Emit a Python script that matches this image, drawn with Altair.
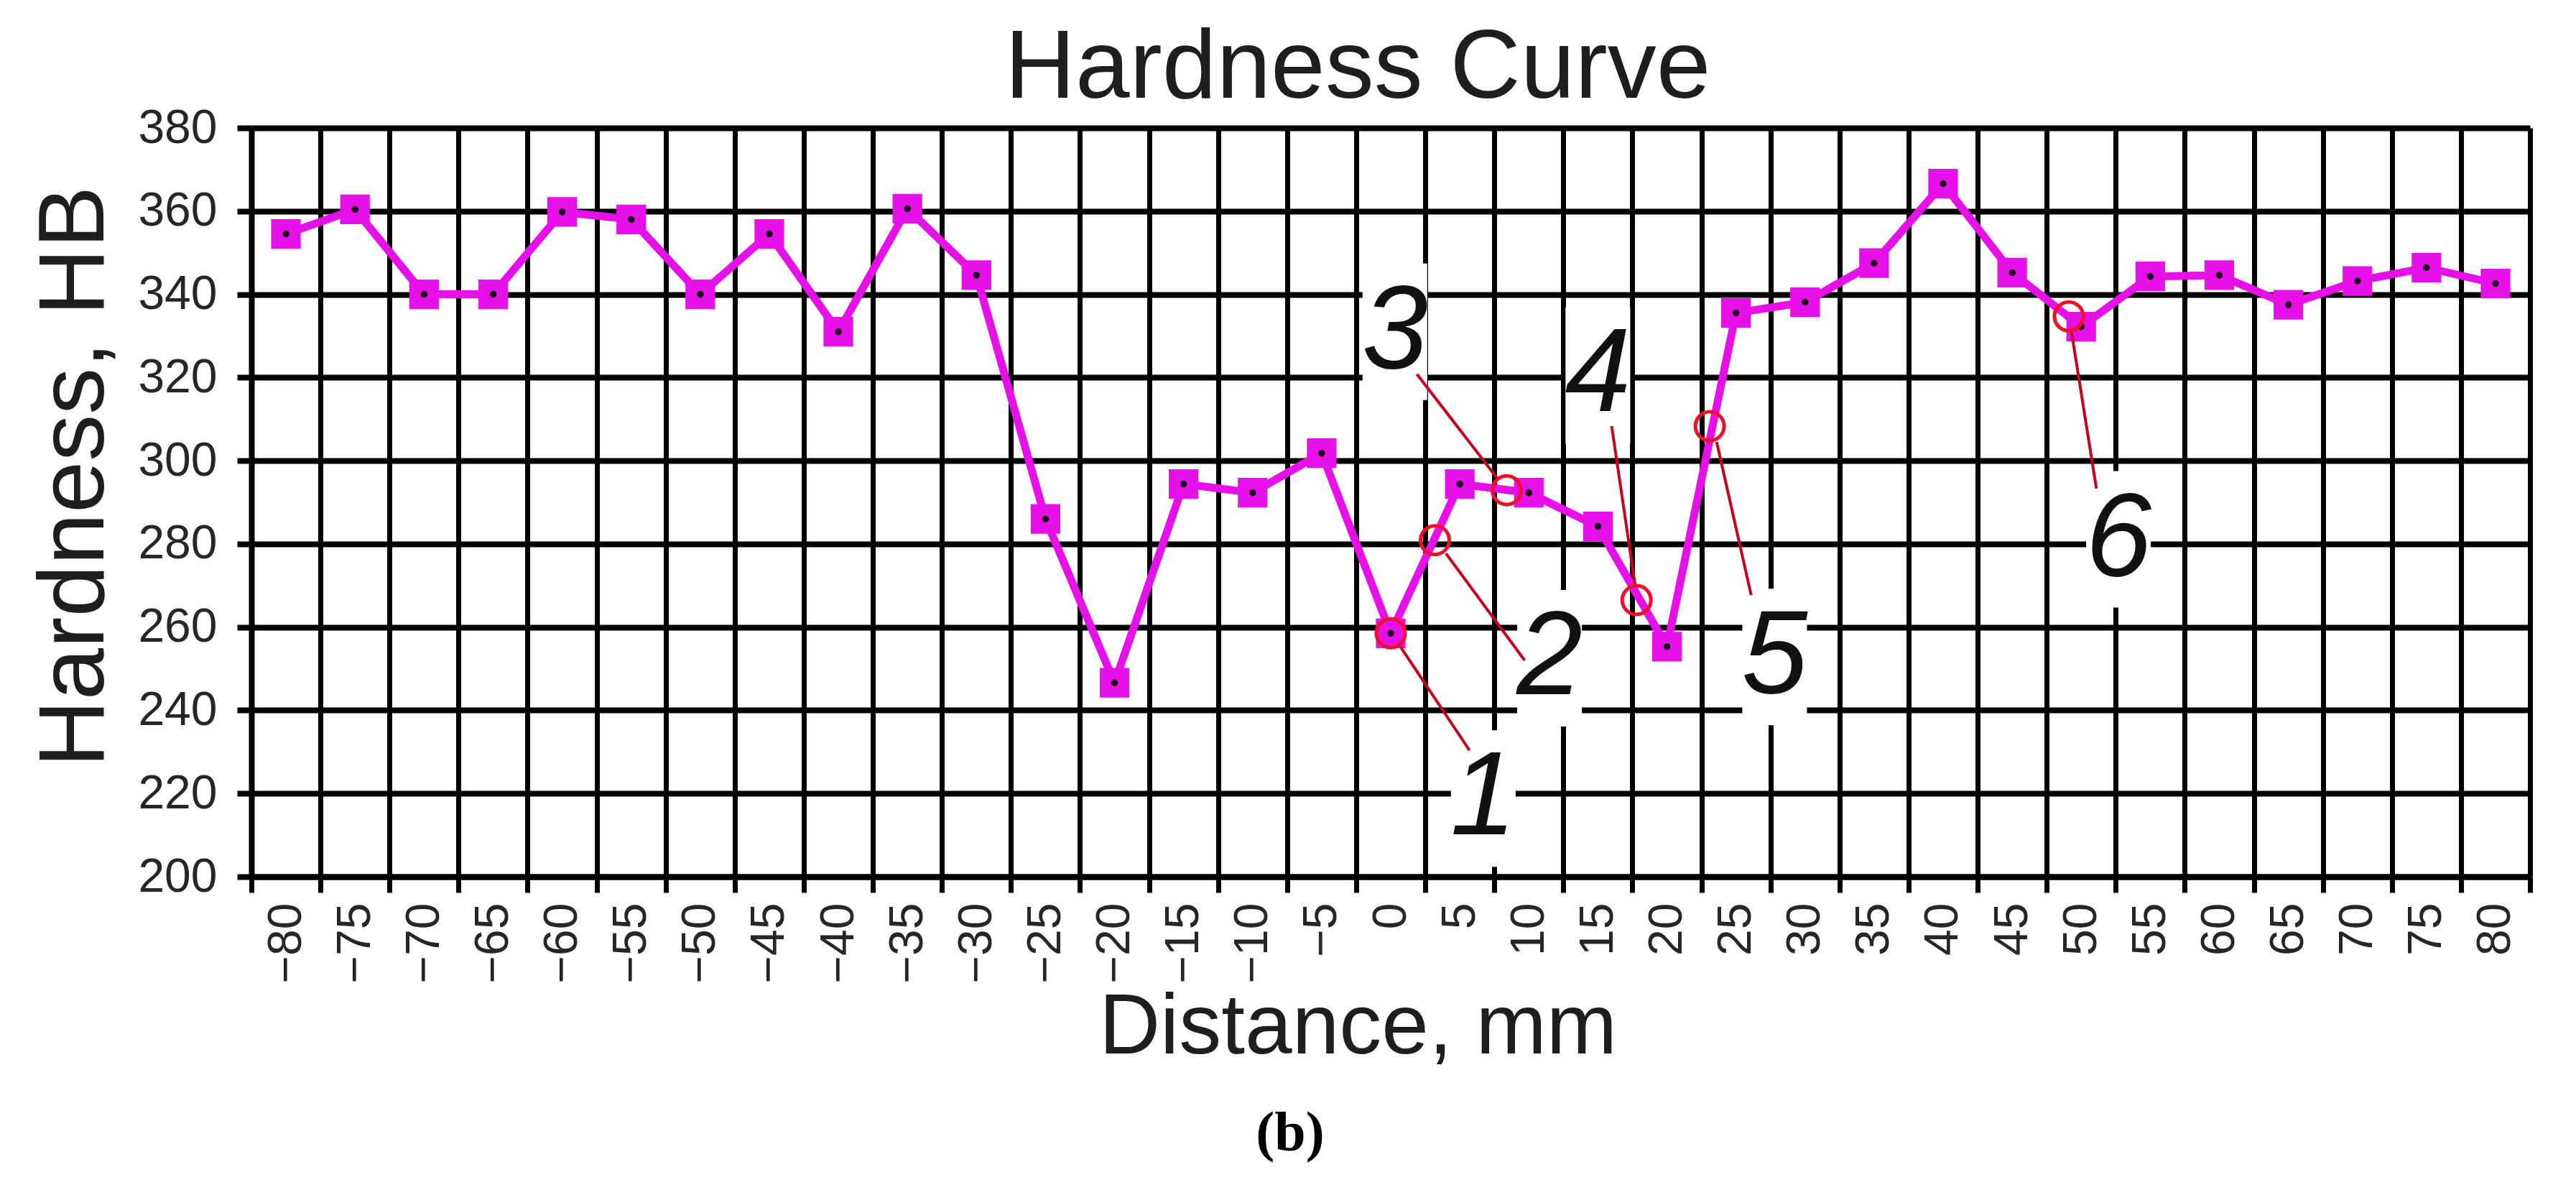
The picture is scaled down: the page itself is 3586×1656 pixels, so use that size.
import altair as alt
import pandas as pd

# ---- data ----
distance = [-80, -75, -70, -65, -60, -55, -50, -45, -40, -35, -30, -25, -20, -15, -10, -5,
            0, 5, 10, 15, 20, 25, 30, 35, 40, 45, 50, 55, 60, 65, 70, 75, 80]
hardness = [354.5, 360.4, 340.0, 340.0, 359.8, 358.0, 340.0, 354.5, 331.0, 360.6, 344.6, 286.0,
            246.6, 294.4, 292.3, 301.8, 258.5, 294.4, 292.3, 284.2, 255.3, 335.5, 338.1, 347.5,
            366.6, 345.2, 332.2, 344.3, 344.6, 337.5, 343.2, 346.4, 342.6]

y_ticks = [200, 220, 240, 260, 280, 300, 320, 340, 360, 380]

# numbered measurement positions (circles on the curve)
spot_id = ["1", "2", "3", "4", "5", "6"]
spot_x = [0.0, 3.2, 8.4, 17.8, 23.1, 49.1]
spot_y = [258.5, 280.9, 292.9, 266.5, 308.3, 334.7]

# label positions
label_x = [6.7, 11.5, 0.3, 15.0, 27.8, 52.7]
label_y = [218.8, 252.5, 331.0, 320.5, 252.8, 281.1]

# leader lines (circle side -> label side)
lead_x1 = [0.7, 4.0, 7.8, 17.7, 23.6, 49.3]
lead_y1 = [255.3, 277.7, 295.4, 270.0, 304.5, 330.9]
lead_x2 = [5.7, 9.7, 1.9, 16.0, 26.1, 51.1]
lead_y2 = [230.4, 252.0, 320.8, 308.3, 267.7, 293.3]

chart_title = "Hardness Curve"
caption_text = "(b)"

# ---- tables ----
curve = pd.DataFrame({"Distance": distance, "Hardness": hardness})
spots = pd.DataFrame({"id": spot_id, "x": spot_x, "y": spot_y,
                      "lx": label_x, "ly": label_y,
                      "x1": lead_x1, "y1": lead_y1, "x2": lead_x2, "y2": lead_y2})

half = (distance[1] - distance[0]) / 2
x_lo, x_hi = distance[0] - half, distance[-1] + half
boundaries = [d - half for d in distance] + [distance[-1] + half]
x_values = sorted(boundaries + distance)
is_boundary = f"abs((datum.value - ({x_lo})) % {2*half}) < 0.01"

MAGENTA = "#E810E8"
FONT = "Liberation Sans"
TEXT_DARK = "#1e1e1e"

x_scale = alt.Scale(domain=[x_lo, x_hi], nice=False, zero=False)
y_scale = alt.Scale(domain=[200, 380], nice=False, zero=False)

x_axis = alt.Axis(
    values=x_values,
    labelExpr=f"{is_boundary} ? '' : format(datum.value, 'd')",
    labelAngle=270, labelAlign="right", labelBaseline="middle",
    labelFontSize=66, labelFont=FONT, labelColor="#262626", labelPadding=14,
    labelOverlap=False, labelFlush=False,
    tickSize=22, tickWidth=7, tickColor="black",
    tickOpacity={"condition": {"test": is_boundary, "value": 1}, "value": 0},
    grid=True, gridColor="black", gridWidth=7,
    gridOpacity={"condition": {"test": is_boundary, "value": 1}, "value": 0},
    domainColor="black", domainWidth=8,
    title="Distance, mm", titleFontSize=118, titleFont=FONT, titleFontWeight="normal",
    titleColor=TEXT_DARK, titleX=1540, titleY=245, titleBaseline="alphabetic",
    titleAlign="center",
)
y_axis = alt.Axis(
    values=y_ticks,
    labelFontSize=66, labelFont=FONT, labelColor="#262626", labelPadding=28,
    tickSize=20, tickWidth=8, tickColor="black",
    grid=True, gridColor="black", gridWidth=8,
    domainColor="black", domainWidth=8,
    title="Hardness, HB", titleFontSize=130, titleFont=FONT, titleFontWeight="normal",
    titleColor=TEXT_DARK, titleAngle=270, titleX=-207, titleY=485,
    titleBaseline="alphabetic", titleAlign="center",
)

base_x = alt.X("Distance:Q", scale=x_scale, axis=x_axis)
base_y = alt.Y("Hardness:Q", scale=y_scale, axis=y_axis)

curve_base = alt.Chart(curve).encode(x=base_x, y=base_y)

line = curve_base.mark_line(color=MAGENTA, strokeWidth=11)
squares = curve_base.mark_point(shape="square", filled=True, size=1700, color=MAGENTA, opacity=1)
dots = curve_base.mark_circle(size=90, color="#1a001a", opacity=1)

sx = alt.X("x:Q", scale=x_scale)
sy = alt.Y("y:Q", scale=y_scale)

boxes = alt.Chart(spots).mark_point(
    shape="M-0.474,-1L0.474,-1L0.474,1L-0.474,1Z", filled=True, size=36100,
    color="white", opacity=1, strokeWidth=0,
).encode(x=alt.X("lx:Q", scale=x_scale), y=alt.Y("ly:Q", scale=y_scale))

leaders = alt.Chart(spots).mark_rule(color="#C8001E", strokeWidth=4).encode(
    x=alt.X("x1:Q", scale=x_scale), y=alt.Y("y1:Q", scale=y_scale),
    x2="x2:Q", y2="y2:Q",
)

rings = alt.Chart(spots).mark_point(
    shape="circle", filled=False, size=1600, color="#F0102A", strokeWidth=5, opacity=1
).encode(x=sx, y=sy)

labels = alt.Chart(spots).mark_text(
    font=FONT, fontStyle="italic", fontSize=165, color="#111111",
    align="center", baseline="middle",
).encode(x=alt.X("lx:Q", scale=x_scale), y=alt.Y("ly:Q", scale=y_scale), text="id:N")

title_mark = alt.Chart(pd.DataFrame({"t": [chart_title]})).mark_text(
    font=FONT, fontSize=136, color=TEXT_DARK, align="center", baseline="alphabetic",
).encode(x=alt.value(1540), y=alt.value(-42), text="t:N")

caption = alt.Chart(pd.DataFrame({"t": [caption_text]})).mark_text(
    font="Liberation Serif", fontSize=78, fontWeight="bold", color="black",
    align="center", baseline="middle",
).encode(x=alt.value(1446), y=alt.value(1400), text="t:N")

chart = alt.layer(
    boxes, line, squares, dots, leaders, rings, labels, title_mark, caption
).properties(
    width=3172, height=1042,
    autosize=alt.AutoSizeParams(type="none"),
    padding={"left": 342, "top": 170, "right": 50, "bottom": 420},
).configure_view(stroke=None).configure(background="white")

chart.save("out.html", embed_options={"renderer": "svg", "actions": False})
